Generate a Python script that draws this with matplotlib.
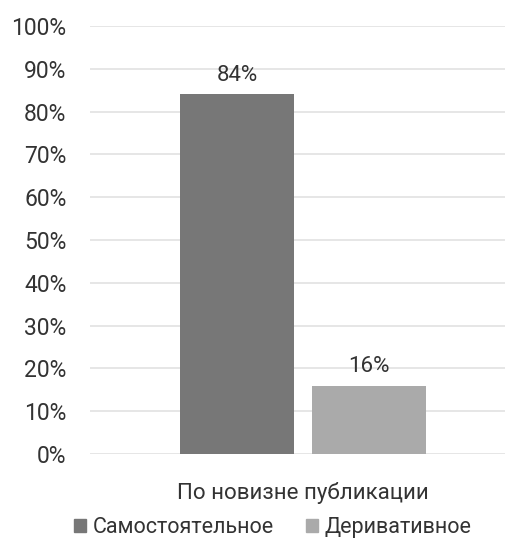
import numpy as np
import matplotlib.pyplot as plt
from matplotlib.patches import Patch

plt.rcParams['font.family'] = ['Roboto', 'DejaVu Sans']

category = 'По новизне публикации'
series = ['Самостоятельное', 'Деривативное']
values = [0.84, 0.16]
colors = ['#777777', '#aaaaaa']
text_color = '#333333'

fig = plt.figure(figsize=(5.05, 5.42), dpi=100)
ax = fig.add_axes([90 / 505, 88 / 542, 415 / 505, 428 / 542])

pos = [-0.5, 0.5]
for p, v, c in zip(pos, values, colors):
    ax.bar(p, v, width=0.865, color=c, zorder=3)
    ax.text(p, v + 0.02, '{:.0f}%'.format(v * 100), ha='center', va='bottom',
            fontsize=16, color=text_color)

ax.set_xlim(-1.614, 1.53)
ax.set_ylim(0, 1)
ticks = np.arange(0, 1.01, 0.1)
ax.set_yticks(ticks)
ax.set_yticklabels(['{:.0f}%'.format(t * 100) for t in ticks], fontsize=16.5, color=text_color)
ax.grid(axis='y', color='#e2e2e2', linewidth=1.2, zorder=0)
ax.tick_params(axis='y', length=0, pad=17)
ax.set_xticks([0])
ax.set_xticklabels([category], fontsize=16, color=text_color)
ax.tick_params(axis='x', length=0, pad=20)
for s in ax.spines.values():
    s.set_visible(False)

handles = [Patch(color=c, label=s) for s, c in zip(series, colors)]
fig.legend(handles=handles, loc='center', bbox_to_anchor=(0.54, 0.026), ncol=2,
           frameon=False, fontsize=15.5, handlelength=0.55, handleheight=0.55,
           handletextpad=0.3, columnspacing=1.5, labelcolor=text_color)

fig.savefig('out.png', dpi=100)
